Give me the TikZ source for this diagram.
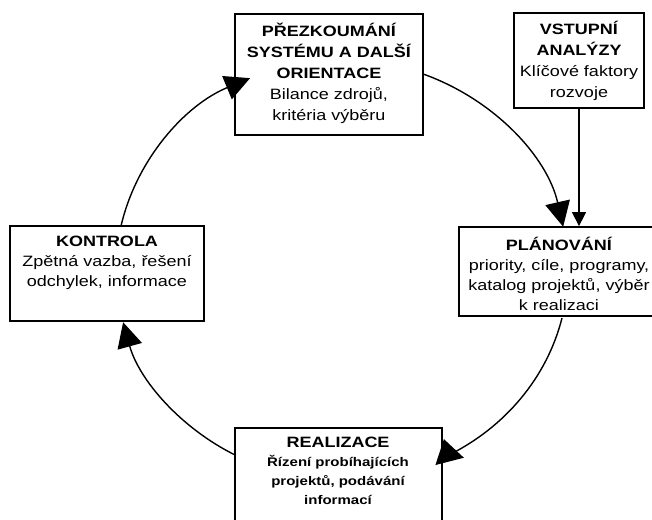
\documentclass[tikz,border=0pt]{standalone}
\usepackage{fontspec}
\setmainfont{Liberation Sans}[FakeStretch=1.2]
\usetikzlibrary{arrows.meta,calc}
\begin{document}
\begin{tikzpicture}[x=1pt,y=-1pt,
  box/.style={draw, line width=1.8pt, fill=white, inner sep=0pt},
  lbl/.style={align=center, inner sep=0pt, anchor=base},
  big/.style={font=\fontsize{15}{21}\selectfont},
  mid/.style={font=\fontsize{15}{20}\selectfont},
  small/.style={font=\bfseries\fontsize{12.5}{19}\selectfont},
  cyc/.style={line width=1.4pt, -{Triangle[length=25pt,width=25pt]}},
  feed/.style={line width=1.4pt, -{Triangle[length=14pt,width=14pt]}}]
\useasboundingbox (0,0) rectangle (652,519);

% boxes of the cycle
\node[box, minimum width=188, minimum height=121] (prez) at (329,74.5) {};
\node[box, minimum width=130, minimum height=95] (vstup) at (579,60.5) {};
\node[box, minimum width=194, minimum height=95] (kontr) at (107,273.5) {};
\node[box, minimum width=201, minimum height=89] (plan) at (559.5,271.5) {};
\node[box, minimum width=207, minimum height=107] (real) at (338.5,481.5) {};

% texts (the base anchor sits on the last line)
\node[lbl, big] (prez-t) at (329,120)
  {\textbf{PŘEZKOUMÁNÍ}\\\textbf{SYSTÉMU A DALŠÍ}\\\textbf{ORIENTACE}\\Bilance zdrojů,\\kritéria výběru};
\node[lbl, big] (vstup-t) at (579,97)
  {\textbf{VSTUPNÍ}\\\textbf{ANALÝZY}\\Klíčové faktory\\rozvoje};
\node[lbl, mid] (kontr-t) at (107,286)
  {\textbf{KONTROLA}\\Zpětná vazba, řešení\\odchylek, informace};
\node[lbl, mid] (plan-t) at (559,310)
  {\textbf{PLÁNOVÁNÍ}\\priority, cíle, programy,\\katalog projektů, výběr\\k realizaci};
\node[lbl, big] (real-t) at (338,447) {\textbf{REALIZACE}};
\node[lbl, small] (real-s) at (338,504)
  {Řízení probíhajících\\projektů, podávání\\informací};

% cycle arcs on an ellipse round the centre c
\coordinate (c) at (342,270);
\coordinate (rtip) at ($(real.north east)+(1,12)$);
\draw[cyc] ($(c)+(192.4:226 and 210)$)
  arc[start angle=192.4, end angle=246, x radius=226, y radius=210];
\draw[cyc] ($(c)+(291.2:226 and 210)$)
  arc[start angle=291.2, end angle=348.1, x radius=226, y radius=210];
\draw[line width=1.4pt, -{Triangle[length=23pt,width=29pt]}] ($(c)+(13.2:226 and 210)$)
  arc[start angle=13.2, end angle=62, x radius=226, y radius=210] -- (rtip);
\draw[cyc] ($(c)+(118:226 and 210)$)
  arc[start angle=118, end angle=165.6, x radius=226, y radius=210];

% input analyses feed the planning
\draw[feed] (vstup.south) -- (vstup.south |- plan.north);
\end{tikzpicture}
\end{document}
